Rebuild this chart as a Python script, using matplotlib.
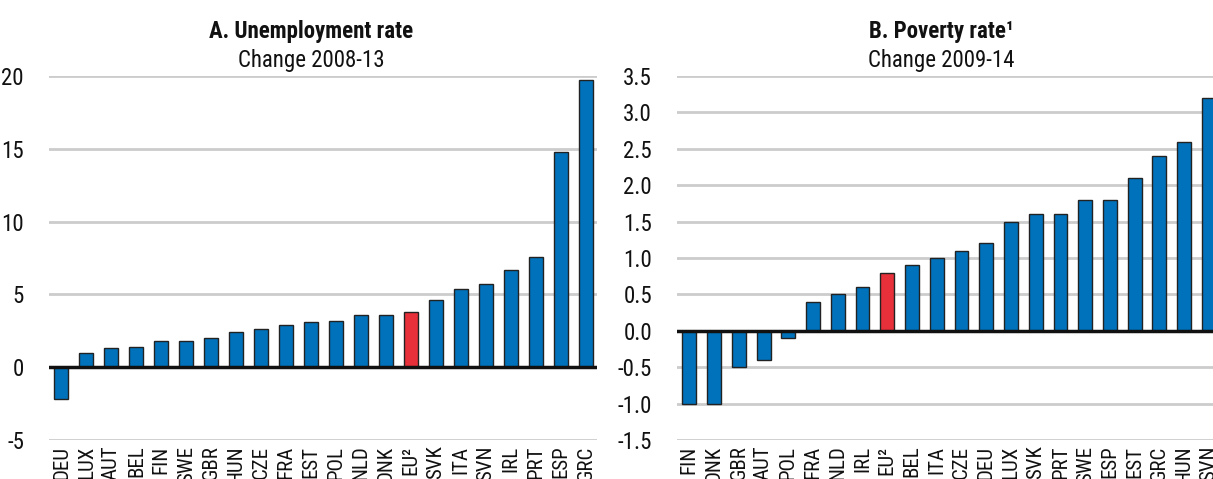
import matplotlib
matplotlib.use("Agg")
import matplotlib.pyplot as plt
from matplotlib import font_manager

names = {f.name for f in font_manager.fontManager.ttflist}
fam = ['Roboto Condensed', 'Liberation Sans', 'DejaVu Sans']
fam = [f for f in fam if f in names] or ['DejaVu Sans']
plt.rcParams['font.family'] = fam

# Panel A: Unemployment rate, change 2008-13
cats_a = ["DEU", "LUX", "AUT", "BEL", "FIN", "SWE", "GBR", "HUN", "CZE", "FRA", "EST",
          "POL", "NLD", "DNK", "EU²", "SVK", "ITA", "SVN", "IRL", "PRT", "ESP", "GRC"]
vals_a = [-2.2, 1.0, 1.3, 1.4, 1.8, 1.8, 2.0, 2.4, 2.6, 2.9, 3.1,
          3.2, 3.6, 3.6, 3.8, 4.6, 5.4, 5.7, 6.7, 7.6, 14.8, 19.7]
ticks_a = [-5, 0, 5, 10, 15, 20]
ticklabels_a = ["-5", "0", "5", "10", "15", "20"]

# Panel B: Poverty rate, change 2009-14
cats_b = ["FIN", "DNK", "GBR", "AUT", "POL", "FRA", "NLD", "IRL", "EU²", "BEL", "ITA",
          "CZE", "DEU", "LUX", "SVK", "PRT", "SWE", "ESP", "EST", "GRC", "HUN", "SVN"]
vals_b = [-1.0, -1.0, -0.5, -0.4, -0.1, 0.4, 0.5, 0.6, 0.8, 0.9, 1.0,
          1.1, 1.2, 1.5, 1.6, 1.6, 1.8, 1.8, 2.1, 2.4, 2.6, 3.2]
ticks_b = [-1.5, -1.0, -0.5, 0.0, 0.5, 1.0, 1.5, 2.0, 2.5, 3.0, 3.5]
ticklabels_b = ["-1.5", "-1.0", "-0.5", "0.0", "0.5", "1.0", "1.5", "2.0", "2.5", "3.0", "3.5"]

BLUE = "#0072BC"
RED = "#E8303A"
W, H = 1213, 479
FS = 16.5
FSX = 15
fig = plt.figure(figsize=(W / 100, H / 100), dpi=100)

def px_axes(x0, x1, y0, y1):
    return fig.add_axes([x0 / W, 1 - y1 / H, (x1 - x0) / W, (y1 - y0) / H])

def draw(ax, cats, vals, ticks, ticklabels):
    colors = [RED if c.startswith("EU") else BLUE for c in cats]
    x = list(range(len(cats)))
    ax.bar(x, vals, width=0.56, color=colors, edgecolor="#222222", linewidth=1.0, zorder=3)
    ax.set_xlim(-0.5, len(cats) - 0.55)
    ax.set_ylim(ticks[0], ticks[-1])
    ax.set_yticks(ticks)
    ax.set_yticklabels(ticklabels)
    ax.set_xticks(x)
    ax.set_xticklabels(cats, rotation=90, va="top", ha="center")
    ax.grid(axis="y", color="#cccccc", linewidth=2, zorder=0)
    ax.axhline(0, color="#111111", linewidth=2.5, zorder=4)
    for s in ax.spines.values():
        s.set_visible(False)
    ax.tick_params(axis="both", length=0, colors="#111111")
    ax.tick_params(axis="y", pad=18, labelsize=FS)
    ax.tick_params(axis="x", pad=4, labelsize=FSX)

ax1 = px_axes(49, 597, 76, 440)
draw(ax1, cats_a, vals_a, ticks_a, ticklabels_a)
ax2 = px_axes(677, 1220, 76, 440)
draw(ax2, cats_b, vals_b, ticks_b, ticklabels_b)

fig.text(311 / W, 1 - 38 / H, "A. Unemployment rate", ha="center", va="baseline",
         fontsize=FS, fontweight="bold", color="#111111")
fig.text(311 / W, 1 - 67 / H, "Change 2008-13", ha="center", va="baseline",
         fontsize=FS, color="#111111")
fig.text(941 / W, 1 - 38 / H, "B. Poverty rate¹", ha="center", va="baseline",
         fontsize=FS, fontweight="bold", color="#111111")
fig.text(941 / W, 1 - 67 / H, "Change 2009-14", ha="center", va="baseline",
         fontsize=FS, color="#111111")

fig.savefig("out.png", dpi=100)
